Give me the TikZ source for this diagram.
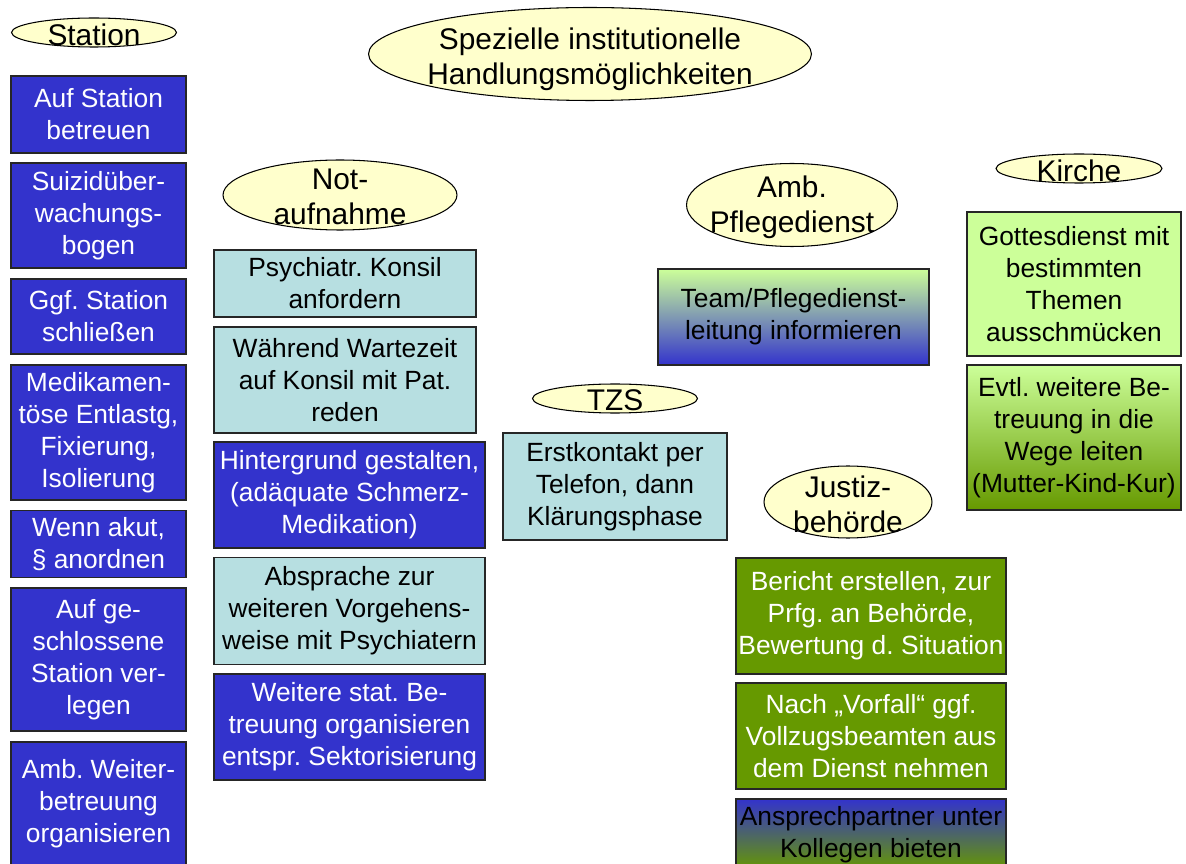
\documentclass[tikz,border=0pt]{standalone}
\usepackage{fontspec}
\setmainfont{Liberation Sans}
\usepackage{xcolor}
\usetikzlibrary{shapes.geometric}
\definecolor{boxblue}{HTML}{3333CC}
\definecolor{boxcyan}{HTML}{B7DFE1}
\definecolor{boxlime}{HTML}{CCFF99}
\definecolor{boxgreen}{HTML}{669900}
\definecolor{ovalyellow}{HTML}{FFFFCC}
\frenchspacing
\tikzset{
  every node/.style={anchor=center},
  oval/.style={draw=black, line width=0.6pt, ellipse, fill=ovalyellow, inner sep=0pt},
  ovaltext/.style={align=center, inner sep=0pt, yshift=-0.04cm, font=\fontsize{17}{20}\selectfont}
}

\begin{document}
\begin{tikzpicture}[
  x=0.02cm, y=-0.02cm,
  box/.style={draw=black!85, line width=0.8pt, rectangle, align=center, inner sep=0pt, font=\fontsize{15}{18.2}\selectfont},
  bluebox/.style={box, fill=boxblue, text=white},
  cyanbox/.style={box, fill=boxcyan},
  limebox/.style={box, fill=boxlime},
  greenbox/.style={box, fill=boxgreen, text=white}
]
\useasboundingbox (0,0) rectangle (1186,864);
\clip (0,0) rectangle (1186,864);

\node[oval, minimum width=3.3cm, minimum height=0.58cm, label={[ovaltext]center:Station}] (station) at (94,32.5) {};
\node[oval, minimum width=8.86cm, minimum height=1.86cm, label={[ovaltext, yshift=-0.06cm]center:Spezielle institutionelle\\Handlungsmöglichkeiten}] (title) at (590,54) {};
\node[oval, minimum width=4.68cm, minimum height=1.4cm, label={[ovaltext]center:Not-\\aufnahme}] (notauf) at (340,195) {};
\node[oval, minimum width=3.3cm, minimum height=0.58cm, label={[ovaltext]center:TZS}] (tzs) at (615,398.5) {};
\node[oval, minimum width=4.22cm, minimum height=1.66cm, label={[ovaltext]center:Amb.\\Pflegedienst}] (pflege) at (792,205) {};
\node[oval, minimum width=3.32cm, minimum height=0.58cm, label={[ovaltext]center:Kirche}] (kirche) at (1079,168.5) {};
\node[oval, minimum width=3.36cm, minimum height=1.44cm, label={[ovaltext]center:Justiz-\\behörde}] (justiz) at (848,502) {};

\node[bluebox, minimum width=3.5cm, minimum height=1.54cm] (st1) at (98.5,114.5) {Auf Station\\betreuen};
\node[bluebox, minimum width=3.5cm, minimum height=2.1cm] (st2) at (98.5,215.5) {Suizidüber-\\wachungs-\\bogen};
\node[bluebox, minimum width=3.5cm, minimum height=1.5cm] (st3) at (98.5,316.5) {Ggf. Station\\schließen};
\node[bluebox, minimum width=3.5cm, minimum height=2.7cm] (st4) at (98.5,432.5) {Medikamen-\\töse Entlastg,\\Fixierung,\\Isolierung};
\node[bluebox, minimum width=3.5cm, minimum height=1.34cm] (st5) at (98.5,544) {Wenn akut,\\§ anordnen};
\node[bluebox, minimum width=3.5cm, minimum height=2.86cm] (st6) at (98.5,659.5) {Auf ge-\\schlossene\\Station ver-\\legen};
\node[bluebox, minimum width=3.5cm, minimum height=2.48cm] (st7) at (98.5,804) {Amb. Weiter-\\betreuung\\organisieren};

\node[cyanbox, minimum width=5.24cm, minimum height=1.34cm] (na1) at (345,283.5) {Psychiatr. Konsil\\anfordern};
\node[cyanbox, minimum width=5.24cm, minimum height=2.12cm] (na2) at (345,380) {Während Wartezeit\\auf Konsil mit Pat.\\reden};
\node[bluebox, minimum width=5.42cm, minimum height=2.12cm] (na3) at (349.5,495) {Hintergrund gestalten,\\(adäquate Schmerz-\\Medikation)};
\node[cyanbox, minimum width=5.42cm, minimum height=2.14cm] (na4) at (349.5,611) {Absprache zur\\weiteren Vorgehens-\\weise mit Psychiatern};
\node[bluebox, minimum width=5.42cm, minimum height=2.12cm] (na5) at (349.5,727) {Weitere stat. Be-\\treuung organisieren\\entspr. Sektorisierung};

\node[cyanbox, minimum width=4.48cm, minimum height=2.14cm] (tz1) at (615,486.5) {Erstkontakt per\\Telefon, dann\\Klärungsphase};

\node[box, top color=boxlime, bottom color=boxblue, minimum width=5.42cm, minimum height=1.92cm] (pf1) at (793.5,317) {Team/Pflegedienst-\\leitung informieren};

\node[limebox, minimum width=4.28cm, minimum height=2.88cm] (ki1) at (1074,284) {Gottesdienst mit\\bestimmten\\Themen\\ausschmücken};
\node[box, top color=boxlime, bottom color=boxgreen, minimum width=4.28cm, minimum height=2.9cm] (ki2) at (1074,437.5) {Evtl. weitere Be-\\treuung in die\\Wege leiten\\(Mutter-Kind-Kur)};

\node[greenbox, minimum width=5.4cm, minimum height=2.32cm] (ju1) at (871,616) {Bericht erstellen, zur\\Prfg. an Behörde,\\Bewertung d. Situation};
\node[greenbox, minimum width=5.4cm, minimum height=2.12cm] (ju2) at (871,736) {Nach „Vorfall“ ggf.\\Vollzugsbeamten aus\\dem Dienst nehmen};
\node[box, top color=boxblue, bottom color=boxgreen, minimum width=5.4cm, minimum height=1.42cm] (ju3) at (871,834.5) {Ansprechpartner unter\\Kollegen bieten};
\end{tikzpicture}
\end{document}
